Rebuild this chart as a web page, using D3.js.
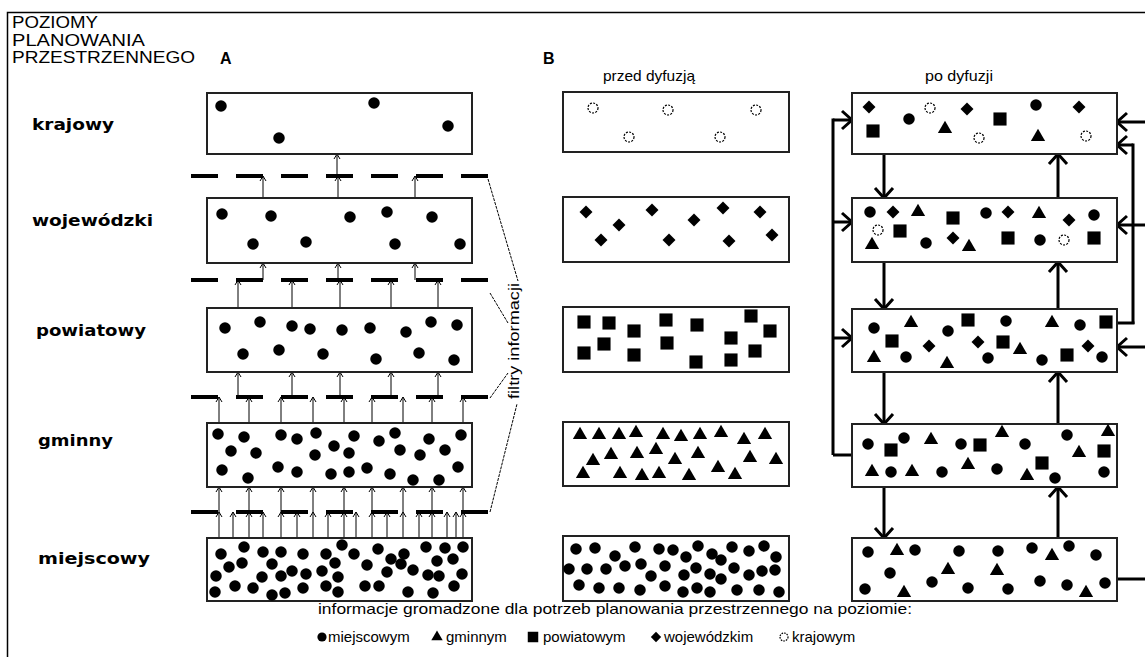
<!DOCTYPE html>
<html>
<head>
<meta charset="utf-8">
<script src="https://cdn.jsdelivr.net/npm/d3@7"></script>
<style>
  body { margin: 0; background: #fff; }
  svg { display: block; font-family: "Liberation Sans", Arial, sans-serif; }
</style>
</head>
<body>
<script>
// ---- data ----
const levels = ["krajowy", "wojewódzki", "powiatowy", "gminny", "miejscowy"];
const titleLines = ["POZIOMY", "PLANOWANIA", "PRZESTRZENNEGO"];
const legendLabels = ["miejscowym", "gminnym", "powiatowym", "wojewódzkim", "krajowym"];
const legendTypes = ["c", "t", "s", "d", "o"];
const caption = "informacje gromadzone dla potrzeb planowania przestrzennego na poziomie:";

// A: dots held at each level (box units)
const aKrajowy = [[14,13],[72,45],[167,10],[241,33]];
const aWojewodzki = [[15,16],[64,18],[143,19],[180,14],[225,19],[46,46],[99,44],[188,46],[253,46]];
const aPowiatowy = [[18,20],[53,14],[85,18],[103,21],[135,22],[163,20],[199,24],[224,14],[250,17],
  [36,46],[72,42],[116,46],[169,51],[212,45],[247,52]];
const aGminny = [[11,11],[37,14],[74,12],[90,16],[109,10],[127,23],[147,13],[172,18],[188,10],[222,16],[254,12],
  [24,28],[49,30],[108,32],[142,30],[193,27],[213,32],[238,27],
  [15,47],[41,55],[71,44],[90,49],[124,51],[142,49],[160,45],[183,51],[206,57],[232,57],[251,44]];
const aMiejscowy = [[14,16],[37,9],[56,14],[74,14],[96,16],[119,16],[135,7],[147,16],[171,11],[197,16],[219,9],[238,10],[256,9],
  [22,29],[35,25],[65,26],[85,33],[99,36],[115,33],[128,25],[160,27],[184,21],[194,26],[230,23],[246,21],
  [9,38],[55,39],[74,38],[131,39],[180,34],[206,32],[221,37],[232,38],[255,36],
  [8,54],[28,48],[46,50],[65,57],[78,55],[96,50],[119,48],[131,54],[158,48],[172,48],[201,54],[226,55],[247,48]];

// arrows entering each filter from below, and arrows passing it (box units)
const filterIn = [
  [56,131,208],
  [31,85,133,184,231],
  [12,42,74,106,137,165,196,225,256],
  [12,26,42,56,74,90,106,121,137,149,165,180,196,212,225,240,249,256]
];
const filterPass = [
  [130],
  [56,131,208],
  [31,85,133,184,231],
  [12,42,74,106,137,165,196,225,256]
];

// B: before diffusion
const przedKrajowy = [[30,16],[66,45],[105,18],[157,45],[193,18]];
const przedWojewodzki = [[23,15],[56,28],[38,43],[89,13],[106,43],[131,23],[160,11],[166,44],[197,15],[209,38]];
const przedPowiatowy = [[21,15],[46,16],[71,24],[103,13],[134,18],[188,9],[207,24],[21,46],[41,37],[71,48],[104,36],[133,55],[168,31],[168,53],[192,44]];
const przedGminny = [[17,13],[36,13],[56,13],[73,11],[100,13],[118,15],[137,13],[158,11],[181,18],[202,13],
  [30,39],[48,33],[74,32],[93,28],[112,38],[135,32],[187,36],[213,38],
  [20,52],[57,52],[79,54],[96,52],[126,54],[155,46],[172,53]];
const przedMiejscowy = [[13,13],[32,12],[52,20],[72,11],[96,13],[110,14],[123,21],[135,10],[149,18],[158,24],[169,11],[186,15],[201,10],[213,21],
  [6,33],[24,33],[43,33],[62,30],[78,28],[88,40],[102,30],[121,39],[133,32],[147,38],[158,43],[171,32],[186,39],[199,35],[212,34],
  [16,49],[36,52],[56,52],[77,54],[102,50],[120,56],[134,52],[147,56],[174,54],[196,54],[216,56]];

// B: after diffusion
const poKrajowy = [[17,14,"d"],[57,26,"c"],[78,15,"o"],[115,16,"d"],[148,26,"s"],[184,12,"c"],[227,14,"d"],
  [21,38,"s"],[93,36,"t"],[127,45,"o"],[186,44,"t"],[234,43,"o"]];
const poWojewodzki = [[18,14,"c"],[41,14,"d"],[66,14,"t"],[101,20,"s"],[134,15,"c"],[156,14,"d"],[187,16,"t"],[217,22,"d"],[242,17,"c"],
  [26,32,"o"],[48,33,"s"],[20,47,"t"],[74,45,"c"],[101,40,"d"],[117,49,"t"],[156,40,"s"],[188,42,"c"],[212,42,"o"],[242,40,"s"]];
const poPowiatowy = [[22,19,"c"],[59,14,"t"],[96,22,"c"],[116,11,"s"],[154,12,"c"],[200,14,"t"],[228,16,"c"],[254,13,"s"],
  [40,32,"s"],[77,37,"d"],[126,33,"d"],[151,33,"s"],[168,41,"t"],[236,37,"d"],
  [22,49,"t"],[54,48,"c"],[95,55,"t"],[136,49,"c"],[190,51,"c"],[215,46,"s"],[250,48,"c"]];
const poGminny = [[16,20,"c"],[39,26,"s"],[52,14,"c"],[79,16,"t"],[109,20,"c"],[128,21,"s"],[150,9,"t"],[173,20,"c"],[215,11,"c"],[256,8,"t"],
  [227,29,"t"],[252,27,"s"],[190,39,"s"],[116,41,"t"],
  [20,48,"t"],[39,48,"c"],[60,48,"t"],[90,48,"c"],[145,45,"c"],[175,52,"t"],[203,54,"c"],[252,48,"c"]];
const poMiejscowy = [[16,14,"c"],[45,13,"t"],[63,12,"c"],[107,13,"c"],[146,13,"c"],[180,10,"c"],[200,18,"t"],[217,8,"c"],[244,17,"c"],
  [38,35,"c"],[96,32,"t"],[145,33,"t"],[80,44,"c"],[188,43,"c"],[215,47,"c"],[253,45,"c"],
  [13,51,"c"],[52,55,"t"],[116,50,"c"],[156,51,"c"],[234,55,"t"]];

// ---- layout ----
const W = 1145, H = 657;
const colA = {x: 207, w: 265, tops: [93, 198, 308, 423, 538], hs: [61, 65, 64, 64, 63],
  pts: [aKrajowy, aWojewodzki, aPowiatowy, aGminny, aMiejscowy], type: "c"};
const colPrzed = {x: 563, w: 226, tops: [92, 197, 307, 422, 536], hs: [60, 65, 65, 64, 65],
  pts: [przedKrajowy, przedWojewodzki, przedPowiatowy, przedGminny, przedMiejscowy], types: ["o", "d", "s", "t", "c"]};
const colPo = {x: 852, w: 265, tops: [93, 198, 309, 424, 538], hs: [61, 64, 63, 63, 63],
  pts: [poKrajowy, poWojewodzki, poPowiatowy, poGminny, poMiejscowy]};
const filterY = [176, 280, 397, 512];
const labelY = [130, 226, 336, 446, 564];
const labelX = [[32, 82], [32, 121], [36, 110], [38, 75], [38, 112]];

const svg = d3.select("body").append("svg")
  .attr("width", W)
  .attr("height", H);

// frame
svg.append("path")
  .attr("d", `M7.5,${H} V12.5 H${W}`)
  .attr("fill", "none")
  .attr("stroke", "#000")
  .attr("stroke-width", 1.5);

// symbol generators
const symbols = {
  c: d3.symbol().type(d3.symbolCircle).size(Math.PI * 33),
  o: d3.symbol().type(d3.symbolCircle).size(Math.PI * 25),
  s: d3.symbol().type(d3.symbolSquare).size(172),
  d: d3.symbol().type(d3.symbolSquare).size(84),
  t: d3.symbol().type(d3.symbolTriangle).size(88)
};

const drawSymbol = function(g, x, y, t, scale) {
  const k = scale || 1;
  const p = g.append("path")
    .attr("d", symbols[t]())
    .attr("transform", `translate(${x},${y})` + (t === "d" ? " rotate(45)" : "") + (k !== 1 ? ` scale(${k})` : ""));
  if (t === "o") {
    p.attr("fill", "#fff").attr("stroke", "#000").attr("stroke-width", 1.2 / k).attr("stroke-dasharray", "2,1.3");
  } else {
    p.attr("fill", "#000");
  }
};

// arrow heads
const thinHead = function(g, x, y) {
  g.append("path")
    .attr("d", `M${x - 3},${y + 5}L${x},${y}L${x + 3},${y + 5}`)
    .attr("fill", "none").attr("stroke", "#000").attr("stroke-width", 1);
};
const thickHead = function(g, x, y, dir) {
  const a = 10, b = 9;
  let d;
  if (dir === "up") d = `M${x - b},${y + a}L${x},${y}L${x + b},${y + a}`;
  else if (dir === "down") d = `M${x - b},${y - a}L${x},${y}L${x + b},${y - a}`;
  else if (dir === "right") d = `M${x - a},${y - b}L${x},${y}L${x - a},${y + b}`;
  else d = `M${x + a},${y - b}L${x},${y}L${x + a},${y + b}`;
  g.append("path").attr("d", d)
    .attr("fill", "none").attr("stroke", "#000").attr("stroke-width", 3)
    .attr("stroke-linejoin", "miter");
};

// ---- left texts ----
svg.append("g").selectAll("text")
  .data(titleLines)
  .enter().append("text")
    .attr("x", 12)
    .attr("y", (d, i) => 28 + i * 17.5)
    .attr("font-size", 17)
    .attr("textLength", (d, i) => [86, 133, 183][i])
    .attr("lengthAdjust", "spacingAndGlyphs")
    .text(d => d);

svg.append("g").selectAll("text")
  .data(levels)
  .enter().append("text")
    .attr("x", (d, i) => labelX[i][0])
    .attr("y", (d, i) => labelY[i])
    .attr("font-family", "'DejaVu Sans', Verdana, sans-serif")
    .attr("font-size", 16)
    .attr("font-weight", "bold")
    .attr("textLength", (d, i) => labelX[i][1])
    .attr("lengthAdjust", "spacingAndGlyphs")
    .text(d => d);

svg.append("text").attr("x", 220).attr("y", 64).attr("font-size", 16).attr("font-weight", "bold").text("A");
svg.append("text").attr("x", 543).attr("y", 64).attr("font-size", 16).attr("font-weight", "bold").text("B");
svg.append("text").attr("x", 603).attr("y", 81).attr("font-size", 15)
  .attr("textLength", 92).attr("lengthAdjust", "spacingAndGlyphs").text("przed dyfuzją");
svg.append("text").attr("x", 925).attr("y", 81).attr("font-size", 15)
  .attr("textLength", 68).attr("lengthAdjust", "spacingAndGlyphs").text("po dyfuzji");

// ---- column A ----
const gA = svg.append("g");
const xA = d3.scaleLinear().domain([0, colA.w]).range([colA.x, colA.x + colA.w]);

// filters: dashed lines and thin arrows
filterY.forEach(function(fy, i) {
  const upperBottom = colA.tops[i] + colA.hs[i];
  const lowerTop = colA.tops[i + 1];
  filterIn[i].forEach(function(u) {
    const x = xA(u);
    gA.append("line").attr("x1", x).attr("x2", x).attr("y1", lowerTop).attr("y2", fy)
      .attr("stroke", "#000").attr("stroke-width", 1);
    thinHead(gA, x, fy);
  });
  filterPass[i].forEach(function(u) {
    const x = xA(u);
    gA.append("line").attr("x1", x).attr("x2", x).attr("y1", fy).attr("y2", upperBottom)
      .attr("stroke", "#000").attr("stroke-width", 1);
    thinHead(gA, x, upperBottom);
  });
  gA.append("line")
    .attr("x1", 191).attr("x2", 488).attr("y1", fy).attr("y2", fy)
    .attr("stroke", "#000").attr("stroke-width", 4)
    .attr("stroke-dasharray", "27,18");
});

colA.tops.forEach(function(top, i) {
  const h = colA.hs[i];
  const y = d3.scaleLinear().domain([0, h]).range([top, top + h]);
  gA.append("rect")
    .attr("x", colA.x).attr("y", top).attr("width", colA.w).attr("height", h)
    .attr("fill", "#fff").attr("stroke", "#222").attr("stroke-width", 2);
  colA.pts[i].forEach(p => drawSymbol(gA, xA(p[0]), y(p[1]), colA.type));
});

// filter label
const gF = svg.append("g");
[[488, 179, 518, 281], [490, 293, 508, 323], [490, 398, 508, 373], [490, 512, 517, 404]].forEach(function(l) {
  gF.append("line")
    .attr("x1", l[0]).attr("y1", l[1]).attr("x2", l[2]).attr("y2", l[3])
    .attr("stroke", "#000").attr("stroke-width", 1).attr("stroke-dasharray", "3,1");
});
gF.append("text")
  .attr("transform", "translate(519,341) rotate(-90)")
  .attr("text-anchor", "middle")
  .attr("font-size", 15)
  .attr("textLength", 116)
  .attr("lengthAdjust", "spacingAndGlyphs")
  .text("filtry informacji");

// ---- column B: before diffusion ----
const gP = svg.append("g");
const xP = d3.scaleLinear().domain([0, colPrzed.w]).range([colPrzed.x, colPrzed.x + colPrzed.w]);
colPrzed.tops.forEach(function(top, i) {
  const h = colPrzed.hs[i];
  const y = d3.scaleLinear().domain([0, h]).range([top, top + h]);
  gP.append("rect")
    .attr("x", colPrzed.x).attr("y", top).attr("width", colPrzed.w).attr("height", h)
    .attr("fill", "#fff").attr("stroke", "#222").attr("stroke-width", 2);
  colPrzed.pts[i].forEach(p => drawSymbol(gP, xP(p[0]), y(p[1]), colPrzed.types[i]));
});

// ---- column B: after diffusion ----
const gD = svg.append("g");
const xD = d3.scaleLinear().domain([0, colPo.w]).range([colPo.x, colPo.x + colPo.w]);
const left = colPo.x, right = colPo.x + colPo.w;
const thick = (x1, y1, x2, y2) => gD.append("line")
  .attr("x1", x1).attr("y1", y1).attr("x2", x2).attr("y2", y2)
  .attr("stroke", "#000").attr("stroke-width", 3);

for (let i = 0; i < 4; i++) {
  const bottom = colPo.tops[i] + colPo.hs[i];
  const nextTop = colPo.tops[i + 1];
  thick(884, bottom, 884, nextTop);
  thickHead(gD, 884, nextTop, "down");
  thick(1058, nextTop, 1058, bottom);
  thickHead(gD, 1058, bottom, "up");
}

// left feedback loop
thick(833, 118.5, 833, 455);
thick(833, 455, left, 455);
[120, 222, 338].forEach(function(y) {
  thick(833, y, left, y);
  thickHead(gD, left, y, "right");
});

// right side
thick(1133, 143.5, 1133, 324);
thick(right, 323, 1134.5, 323);
thick(1133, 145, right, 145);
thickHead(gD, right, 145, "left");
[122, 225, 347].forEach(function(y) {
  thick(W, y, right, y);
  thickHead(gD, right, y, "left");
});
thick(right, 579, W, 579);

colPo.tops.forEach(function(top, i) {
  const h = colPo.hs[i];
  const y = d3.scaleLinear().domain([0, h]).range([top, top + h]);
  gD.append("rect")
    .attr("x", colPo.x).attr("y", top).attr("width", colPo.w).attr("height", h)
    .attr("fill", "#fff").attr("stroke", "#222").attr("stroke-width", 2);
  colPo.pts[i].forEach(p => drawSymbol(gD, xD(p[0]), y(p[1]), p[2]));
});

// ---- caption and legend ----
svg.append("text")
  .attr("x", 318).attr("y", 614)
  .attr("font-size", 15)
  .attr("textLength", 594)
  .attr("lengthAdjust", "spacingAndGlyphs")
  .text(caption);

const legendX = [[322, 328], [437, 446], [533, 543], [656, 664], [784, 792]];
const gL = svg.append("g");
legendLabels.forEach(function(lbl, i) {
  drawSymbol(gL, legendX[i][0], 637, legendTypes[i], 0.8);
  gL.append("text")
    .attr("x", legendX[i][1]).attr("y", 642)
    .attr("font-size", 15)
    .text(lbl);
});
</script>
</body>
</html>
